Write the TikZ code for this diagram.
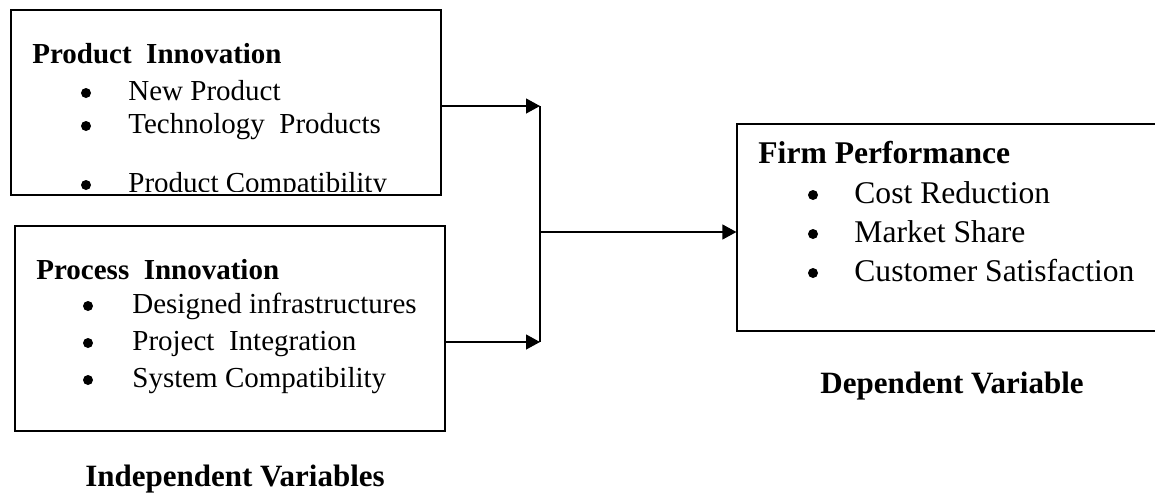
\documentclass[tikz,border=0pt]{standalone}
\usepackage{fontspec}
\setmainfont{Liberation Serif}
\usetikzlibrary{arrows.meta}

\begin{document}
\begin{tikzpicture}[x=0.5pt, y=-0.5pt,
  box/.style = {draw, line width=0.6pt, inner sep=0pt},
  head/.style = {font=\bfseries\fontsize{14.5}{17}\selectfont, anchor=base west, inner sep=0pt},
  item/.style = {font=\fontsize{14.5}{17}\selectfont, anchor=base west, inner sep=0pt},
  bighead/.style = {head, font=\bfseries\fontsize{15.8}{19}\selectfont},
  bigitem/.style = {item, font=\fontsize{15.8}{19}\selectfont},
  caption/.style = {font=\bfseries\fontsize{15.5}{19}\selectfont, anchor=base, inner sep=0pt},
  dot/.style = {circle, fill, inner sep=0pt, minimum size=5pt},
  link/.style = {line width=0.6pt, -{Triangle[length=7pt, width=7.5pt]}}]
  \clip (0,0) rectangle (1155,493);
  \node[box, minimum width=215pt, minimum height=92.5pt] (prod) at (226,102.5) {};
  \node[box, minimum width=215pt, minimum height=102.5pt] (proc) at (230,328.5) {};
  \node[box, minimum width=213pt, minimum height=103.5pt] (firm) at (950,227.5) {};

  \node[head] (prodhead) at (32,63) {Product~~Innovation};
  \foreach \y/\txt [count=\i] in {100/New Product, 133/Technology~~Products} {
    \node[dot] (proddot\i) at (86,\y-7) {};
    \node[item] (proditem\i) at (128,\y) {\txt};
  }
  \begin{scope}
    \clip (11,10) rectangle (441,191);
    \node[dot] (proddot3) at (86,185) {};
    \node[item] (proditem3) at (128,192) {Product Compatibility};
  \end{scope}

  \node[head] (prochead) at (36,279) {Process~~Innovation};
  \foreach \y/\txt [count=\i] in {313/Designed infrastructures, 350/Project~~Integration, 387/System Compatibility} {
    \node[dot] (procdot\i) at (88,\y-7) {};
    \node[item] (procitem\i) at (132,\y) {\txt};
  }

  \node[bighead] (firmhead) at (758,163) {Firm Performance};
  \foreach \y/\txt [count=\i] in {203/Cost Reduction, 242/Market Share, 281/Customer Satisfaction} {
    \node[dot] (firmdot\i) at (813,\y-8) {};
    \node[bigitem] (firmitem\i) at (854,\y) {\txt};
  }

  \node[caption] (indep) at (235,486) {Independent Variables};
  \node[caption] (dep) at (952,393) {Dependent Variable};

  \coordinate (jtop) at (540,106);
  \coordinate (jmid) at (540,232);
  \coordinate (jbot) at (540,342);
  \draw[link] (prod.east |- jtop) -- (jtop);
  \draw[link] (proc.east |- jbot) -- (jbot);
  \draw[line width=0.6pt] (jtop) -- (jbot);
  \draw[link] (jmid) -- (jmid -| firm.west);
\end{tikzpicture}
\end{document}
